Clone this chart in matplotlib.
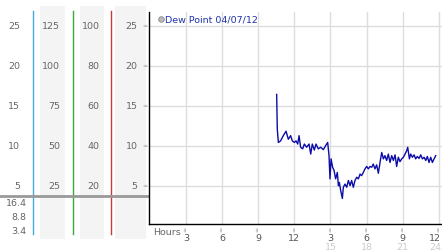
import matplotlib
matplotlib.use("Agg")
from matplotlib import pyplot as plt

# dew point readings (hour of day, degrees)
hours = [10.53, 10.58, 10.67, 10.86, 11.08, 11.31, 11.50, 11.69, 11.83, 12.00,
         12.14, 12.28, 12.39, 12.52, 12.69, 12.83, 13.02, 13.22, 13.36, 13.49,
         13.66, 13.80, 13.99, 14.19, 14.41, 14.60, 14.77, 14.88, 14.96, 15.05,
         15.18, 15.30, 15.43, 15.57, 15.66, 15.74, 15.85, 15.99, 16.07, 16.21,
         16.35, 16.49, 16.63, 16.76, 16.90, 17.04, 17.18, 17.32, 17.46, 17.59,
         17.73, 17.87, 18.01, 18.15, 18.29, 18.43, 18.56, 18.70, 18.84, 18.98,
         19.12, 19.26, 19.40, 19.53, 19.67, 19.81, 19.95, 20.09, 20.23, 20.37,
         20.50, 20.64, 20.78, 20.92, 21.06, 21.20, 21.34, 21.42, 21.56, 21.67,
         21.81, 21.95, 22.08, 22.22, 22.36, 22.50, 22.64, 22.78, 22.92, 23.05,
         23.19, 23.33, 23.47, 23.61, 23.75]
dew_point = [16.4, 12.1, 10.4, 10.6, 11.25, 11.8, 10.8, 11.25, 10.6, 10.4,
             10.6, 10.2, 11.25, 9.8, 9.6, 10.2, 9.8, 10.2, 8.95, 10.2,
             9.45, 10.2, 9.6, 9.8, 9.5, 10.0, 10.4, 8.75, 5.85, 8.35,
             7.3, 6.9, 5.85, 6.65, 5.0, 5.4, 4.4, 3.4, 4.8, 5.2,
             4.8, 5.65, 5.0, 5.65, 4.8, 5.65, 6.05, 5.85, 6.45, 6.25,
             6.65, 7.1, 7.4, 7.1, 7.4, 7.3, 7.7, 7.1, 7.6, 6.55,
             7.9, 9.15, 8.35, 8.75, 8.15, 8.95, 7.9, 8.75, 8.15, 8.85,
             7.4, 8.55, 8.0, 8.35, 8.55, 8.95, 9.4, 9.8, 8.35, 8.95,
             8.55, 8.85, 8.35, 8.65, 8.4, 8.85, 8.35, 8.55, 8.15, 8.65,
             7.9, 8.55, 7.9, 8.35, 8.75]

series_label = "Dew Point 04/07/12"
y_levels = [25, 20, 15, 10, 5]
scale_cols = [["25", "20", "15", "10", "5"],
              ["125", "100", "75", "50", "25"],
              ["100", "80", "60", "40", "20"],
              ["25", "20", "15", "10", "5"]]
summary = ["16.4", "8.8", "3.4"]
hour_ticks = [3, 6, 9, 12, 15, 18, 21, 24]
hour_top = ["3", "6", "9", "12", "3", "6", "9", "12"]
hour_bottom = ["", "", "", "", "15", "18", "21", "24"]

W, H = 442, 253
fig = plt.figure(figsize=(W / 100, H / 100), dpi=100)
fig.patch.set_facecolor("white")

ylo, yhi = 0.21, 26.7
fs = 6.8

# left scale panel, same vertical scale as main plot
axl = fig.add_axes([0, 0, 149 / W, 1])
axl.set_xlim(0, 149)
ppu = 212 / (yhi - ylo)          # pixels per unit
axl.set_ylim(ylo - 28 / ppu, yhi + 13 / ppu)
axl.axis("off")
for x0, x1 in [(40, 65), (80, 104), (115, 146)]:
    axl.axvspan(x0, x1, ymin=13 / H, ymax=246 / H, color="#f4f4f4", lw=0)
for xc, col in [(33.3, "#4aa8d8"), (72.7, "#3aa83a"), (111.3, "#c83a3a")]:
    axl.axvline(xc, ymin=18 / H, ymax=241 / H, color=col, lw=1)
for xr, labels in zip([20, 60, 99.5, 137.5], scale_cols):
    for lv, lab in zip(y_levels, labels):
        axl.text(xr, lv, lab, ha="right", va="center", fontsize=fs,
                 color="#666666")
gray_v = yhi - (196.7 - 13) / ppu
axl.axhline(gray_v, xmin=0, xmax=1, color="#999999", lw=2)
for ypx, lab in zip([204, 218, 231.5], summary):
    axl.text(26.7, 1 - ypx / H, lab, ha="right", va="center", fontsize=fs,
             color="#666666", transform=axl.get_xaxis_transform())

# main plot
ax = fig.add_axes([149 / W, 28 / H, 293 / W, 212 / H])
ax.plot(hours, dew_point, color="#0c0ca8", lw=1)
ax.set_xlim(-0.08, 24.27)
ax.set_ylim(ylo, yhi)
ax.set_xticks(hour_ticks)
ax.set_yticks(y_levels)
ax.grid(True, color="#dddddd", lw=1)
ax.tick_params(length=0, labelbottom=False, labelleft=False)
for s in ["top", "right"]:
    ax.spines[s].set_visible(False)
for s in ["left", "bottom"]:
    ax.spines[s].set_color("black")
    ax.spines[s].set_linewidth(1)

xt = ax.get_xaxis_transform()
for h, top, bot in zip(hour_ticks, hour_top, hour_bottom):
    # last tick is pulled in so it fits inside the figure
    ha = "right" if h == hour_ticks[-1] else "center"
    hx = h + 0.2 if h == hour_ticks[-1] else h
    ax.text(hx, -0.022, "\u2248", ha=ha, va="center", fontsize=4.5,
            rotation=90, color="#999999", transform=xt, clip_on=False)
    ax.text(hx, -0.062, top, ha=ha, va="center", fontsize=fs,
            color="#555555", transform=xt, clip_on=False)
    if bot:
        ax.text(hx, -0.104, bot, ha=ha, va="center", fontsize=fs,
                color="#cccccc", transform=xt, clip_on=False)
ax.text(0.25, -0.034, "Hours", ha="left", va="center", fontsize=fs,
        color="#666666", transform=xt, clip_on=False)

yt = ax.get_yaxis_transform()
for lv in y_levels:
    ax.text(-0.014, lv, "\u2248", ha="center", va="center", fontsize=4.5,
            color="#999999", transform=yt, clip_on=False)

# legend entry
ax.plot([0.04], [0.967], "o", ms=4, mfc="#bbbbbb", mec="#888888", mew=0.6,
        transform=ax.transAxes, clip_on=False)
ax.text(0.055, 0.967, series_label, ha="left", va="center", fontsize=fs,
        color="#2233aa", transform=ax.transAxes)

fig.savefig("out.png", dpi=100)
